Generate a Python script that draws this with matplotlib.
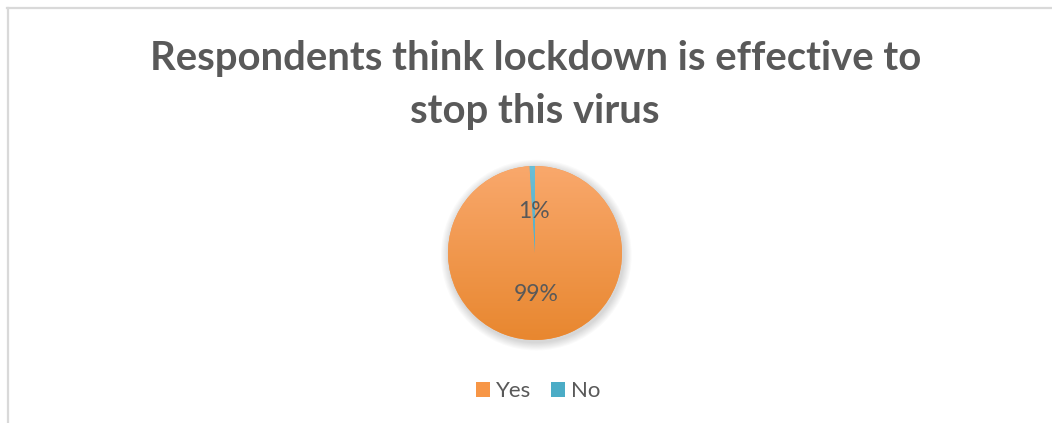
import numpy as np
import matplotlib
matplotlib.use("Agg")
import matplotlib.pyplot as plt
from matplotlib.colors import LinearSegmentedColormap
from matplotlib.lines import Line2D
from matplotlib.patches import Circle

labels = ["Yes", "No"]
values = [99, 1]
title_lines = ["Respondents think lockdown is effective to", "stop this virus"]

base_colors = ["#F79646", "#4BACC6"]
grad_colors = [("#F9A86C", "#E8872F"), ("#6BBFD6", "#3E9BB5")]
text_gray = "#595959"

W, H = 1052, 423
plt.rcParams["font.family"] = ["Lato", "DejaVu Sans"]

fig = plt.figure(figsize=(W / 100, H / 100), dpi=100)

# chart border (light gray, cut at right / bottom like the screenshot)
fig.add_artist(Line2D([7.5 / W, 7.5 / W], [0, 1 - 8 / H], color="#D9D9D9", lw=1.6))
fig.add_artist(Line2D([7 / W, 1], [1 - 8.5 / H, 1 - 8.5 / H], color="#D9D9D9", lw=1.6))

# title
fig.text(536 / W, 1 - 70 / H, title_lines[0], ha="center", va="baseline",
         fontsize=28.8, fontweight="bold", color=text_gray)
fig.text(535 / W, 1 - 123 / H, title_lines[1], ha="center", va="baseline",
         fontsize=28.8, fontweight="bold", color=text_gray)

# pie axes: center (535, 253) px, radius 87 px
cx, cy, r_px = 535, 253, 87
lim = 1.15
half = r_px * lim
ax = fig.add_axes([(cx - half) / W, (H - cy - half) / H, 2 * half / W, 2 * half / H])
ax.set_axis_off()

# soft shadow
for i in range(8):
    ax.add_patch(Circle((0.015, -0.025), 1.0 + 0.012 * (8 - i), color="black",
                        alpha=0.018, lw=0, zorder=0))

wedges, texts, autotexts = ax.pie(
    values, colors=base_colors, startangle=90, counterclock=False,
    autopct="%1.0f%%", pctdistance=0.48,
    textprops=dict(fontsize=16.5, color=text_gray),
    wedgeprops=dict(linewidth=0, zorder=1),
)

grad = np.linspace(0, 1, 256).reshape(-1, 1)
for w, (c0, c1) in zip(wedges, grad_colors):
    cmap = LinearSegmentedColormap.from_list("g", [c0, c1])
    im = ax.imshow(grad, cmap=cmap, extent=(-1, 1, -1, 1), origin="upper",
                   aspect="auto", zorder=1.5, interpolation="bilinear")
    im.set_clip_path(w)
for t in autotexts:
    t.set_zorder(3)

ax.set_xlim(-lim, lim)
ax.set_ylim(-lim, lim)
ax.set_aspect("equal")

leg = fig.legend(wedges, labels, loc="center", bbox_to_anchor=(538 / W, 1 - 391 / H),
                 ncol=2, frameon=False, fontsize=16, handlelength=0.64,
                 handleheight=0.64, handletextpad=0.25, columnspacing=0.9,
                 labelcolor=text_gray)

fig.savefig("out.png", dpi=100, facecolor="white")
